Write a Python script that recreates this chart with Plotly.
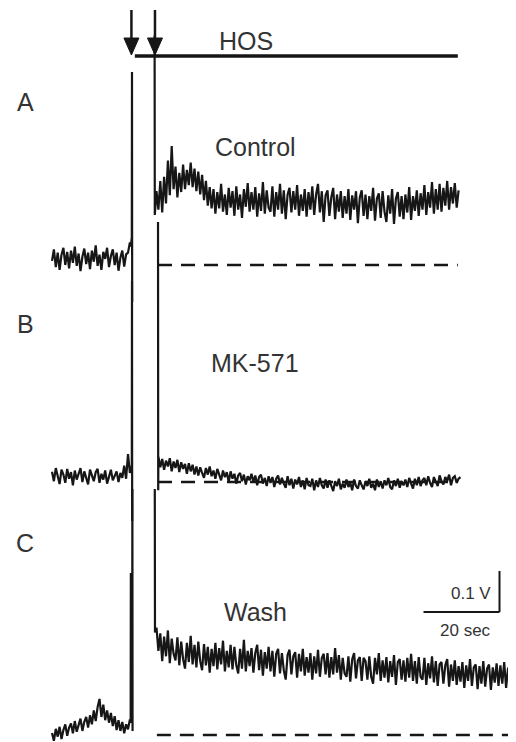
import numpy as np
import plotly.graph_objects as go

# ---------------- data (time in s, potential in mV relative to each panel's baseline) -------------
DT = 0.5  # sampling interval of the traces (s)

# Panel A - Control
A_PRE_T0 = 0.0
A_PRE_MV = [10, 38, -5, 30, -12, 25, 42, 0, 32, -8, 35, 5, 45, -2, 28, -15, 20, 40, 2, 30, -10,
            35, 8, 48, -2, 25, -12, 32, 15, 42, -5, 22, 38, 0, 30, -14, 18, 35, -4, 26, 30, 55]
A_SPIKE_T = [20.75, 21.0, 21.05, 21.1]
A_SPIKE_MV = [45, 68, 471, -90]
A_LEAD_T = [27.0, 27.05]
A_LEAD_MV = [560, 122]
A_POST_T0 = 27.5
A_POST_MV = [180, 135, 205, 128, 215, 150, 255, 170, 290, 185,
             240, 165, 225, 178, 245, 185, 232, 195, 250, 190,
             235, 180, 228, 172, 220, 158, 205, 145, 190, 138,
             185, 125, 178, 138, 198, 130, 172, 122, 188, 140,
             180, 120, 192, 135, 172, 115, 185, 142, 200, 130,
             178, 135, 190, 118, 175, 132, 202, 125, 182, 140,
             130, 192, 118, 178, 135, 198, 125, 182, 112, 172,
             188, 128, 180, 135, 195, 120, 172, 132, 185, 118,
             178, 135, 192, 122, 172, 198, 128, 180, 105, 170,
             182, 120, 165, 188, 112, 172, 130, 180, 115, 168,
             125, 185, 110, 170, 135, 180, 102, 165, 182, 120,
             172, 112, 168, 132, 188, 108, 162, 175, 115, 180,
             130, 105, 170, 125, 185, 100, 162, 178, 118, 168,
             112, 172, 128, 190, 110, 168, 132, 182, 120, 175,
             135, 195, 122, 178, 140, 202, 125, 185, 135, 198,
             130, 188, 145, 205, 135, 190, 150, 200, 140, 182]
A_BASE_T = [27.9, 106.8]

# Panel B - MK-571
B_PRE_T0 = 0.0
B_PRE_MV = [25, 2, 34, 10, -5, 30, 18, -2, 32, 8, 24, -8, 28, 6, 18, 34, 0, 26, 10, -6, 30,
            14, 2, 24, 32, -2, 20, 6, 28, -4, 16, 30, 4, 14, 26, 0, 22, 10, 40, 8, 68, 22]
B_SPIKE_T = [20.75, 21.0, 21.05, 21.1]
B_SPIKE_MV = [30, 40, 490, -95]
B_LEAD_T = [27.9, 27.95]
B_LEAD_MV = [634, -20]
B_POST_T0 = 28.0
B_POST_MV = [62, 36, 56, 30, 52, 38, 58, 26, 50, 34,
             54, 24, 48, 32, 44, 20, 46, 26, 42, 18,
             38, 16, 36, 22, 10, 34, 18, 38, 14, 28,
             8, 32, 16, 4, 28, 12, 24, 0, 26, 8,
             20, -4, 16, 22, 2, 18, -6, 14, 4, 20,
             0, 16, -8, 12, 18, -4, 10, -10, 14, -2,
             12, -12, 8, 16, -6, 10, -4, -14, 14, -8,
             8, -16, 6, -6, 12, -12, 4, -18, 10, -8,
             -10, 8, -20, 4, -12, 10, -8, -16, 6, -14,
             4, -12, -22, 2, -10, 8, -18, -4, -14, 6,
             -12, -2, -20, 6, -10, -16, 4, -8, -18, 2,
             -10, 8, -14, -4, -20, 6, -12, 2, -16, 4,
             -8, 10, -12, -18, 4, -10, 8, -14, 2, -8,
             6, -12, 10, -4, -16, 8, -8, 12, -10, 4,
             10, -8, 14, -2, -12, 12, 0, -10, 16, 2,
             -6, 12, 2, 18, -8, 10, 14, -2, 8, 12]
B_BASE_T = [27.9, 106.8]

# Panel C - Wash
C_PRE_T0 = 0.0
C_PRE_MV = [5, -14, 15, -4, 20, -10, 12, 26, -2, 18,
            28, 4, 34, 8, 24, 40, 10, 32, 44, 18,
            48, 26, 60, 34, 68, 88, 44, 74, 36, 60,
            30, 54, 22, 46, 12, 36, 10, 32, 4, 26,
            14, 38]
C_SPIKE_T = [20.7, 20.75, 20.8, 21.1, 21.15, 21.2]
C_SPIKE_MV = [30, 395, 40, 45, 600, 10]
C_LEAD_T = [27.05, 27.1]
C_LEAD_MV = [600, 250]
C_POST_T0 = 27.5
C_POST_MV = [262, 205, 248, 180, 240, 192, 255, 175, 235, 198,
             182, 238, 170, 228, 185, 162, 225, 178, 242, 172,
             220, 165, 228, 180, 158, 222, 170, 215, 152, 210,
             168, 225, 160, 212, 172, 230, 155, 205, 165, 220,
             160, 215, 170, 150, 210, 162, 232, 155, 205, 168,
             212, 152, 200, 220, 158, 208, 145, 202, 162, 215,
             155, 205, 142, 198, 210, 150, 200, 158, 135, 195,
             208, 148, 192, 202, 140, 198, 155, 210, 145, 190,
             152, 200, 135, 192, 150, 208, 142, 188, 198, 148,
             200, 140, 190, 148, 212, 152, 195, 135, 188, 150,
             142, 192, 130, 185, 200, 138, 182, 190, 132, 188,
             180, 135, 192, 142, 125, 188, 148, 200, 132, 182,
             140, 190, 128, 180, 142, 195, 122, 178, 185, 135,
             182, 130, 188, 140, 198, 132, 180, 125, 190, 142,
             135, 188, 122, 175, 138, 192, 128, 180, 120, 172,
             178, 125, 170, 185, 118, 172, 132, 182, 122, 168,
             130, 178, 115, 170, 132, 185, 120, 165, 172, 112,
             168, 125, 180, 118, 162, 172, 110, 165, 128, 175,
             120, 170, 125, 178, 115, 162, 168, 122, 172, 130]
C_BASE_T = [27.6, 122.2]

# HOS application and stimulus arrows (s)
HOS_T = [21.8, 106.8]
ARROW_T = [20.9, 27.1]
# scale bar
SCALE_SEC = 20
SCALE_V = 0.1

# ---------------- layout helpers ----------------
PAGE_PAD = 8            # default body margin of the html page
W, H = 516 - PAGE_PAD, 742 - PAGE_PAD
X0_PX, PX_PER_S, PX_PER_V = 52, 3.8, 410.0


def px_x(x):
    return (x - X0_PX) / PX_PER_S


def px_y(y):
    return -y / PX_PER_V


OFFSETS = {"A": px_y(265), "B": px_y(482), "C": px_y(735)}
INK = "#161616"
TXT = "#333333"


def seg(t0, mv):
    return list(t0 + DT * np.arange(len(mv))), list(mv)


def build(pre_t0, pre_mv, sp_t, sp_mv, lead_t, lead_mv, post_t0, post_mv, off):
    t1, v1 = seg(pre_t0, pre_mv)
    t2, v2 = seg(post_t0, post_mv)
    t = t1 + sp_t + [None] + lead_t + t2
    v = v1 + sp_mv + [None] + lead_mv + v2
    y = [None if a is None else a / 1000.0 + off for a in v]
    return t, y


fig = go.Figure()
panels = [
    ("A", A_PRE_T0, A_PRE_MV, A_SPIKE_T, A_SPIKE_MV, A_LEAD_T, A_LEAD_MV, A_POST_T0, A_POST_MV, A_BASE_T),
    ("B", B_PRE_T0, B_PRE_MV, B_SPIKE_T, B_SPIKE_MV, B_LEAD_T, B_LEAD_MV, B_POST_T0, B_POST_MV, B_BASE_T),
    ("C", C_PRE_T0, C_PRE_MV, C_SPIKE_T, C_SPIKE_MV, C_LEAD_T, C_LEAD_MV, C_POST_T0, C_POST_MV, C_BASE_T),
]
for name, pt0, pmv, st, smv, lt, lmv, qt0, qmv, bt in panels:
    off = OFFSETS[name]
    fig.add_trace(go.Scatter(x=bt, y=[off, off], mode="lines",
                             line=dict(color=INK, width=2.6, dash="14px,9px"),
                             hoverinfo="skip", showlegend=False))
    t, y = build(pt0, pmv, st, smv, lt, lmv, qt0, qmv, off)
    fig.add_trace(go.Scatter(x=t, y=y, mode="lines", connectgaps=False,
                             line=dict(color=INK, width=2.2),
                             hoverinfo="skip", showlegend=False))

shapes = []
# HOS bar
shapes.append(dict(type="line", xref="x", yref="y", x0=HOS_T[0], x1=HOS_T[1],
                   y0=px_y(56), y1=px_y(56), line=dict(color=INK, width=3.5)))
# arrows
hw = 7.5 / PX_PER_S
for ta in ARROW_T:
    shapes.append(dict(type="line", xref="x", yref="y", x0=ta, x1=ta,
                       y0=px_y(10), y1=px_y(42), line=dict(color=INK, width=2.5)))
    shapes.append(dict(type="path", xref="x", yref="y",
                       path=f"M{ta - hw},{px_y(38)} L{ta + hw},{px_y(38)} L{ta},{px_y(55)} Z",
                       fillcolor=INK, line=dict(color=INK, width=1)))
# scale bar
sx1 = px_x(499.5)
sy0 = px_y(612)
shapes.append(dict(type="line", xref="x", yref="y", x0=sx1 - SCALE_SEC, x1=sx1,
                   y0=sy0, y1=sy0, line=dict(color=INK, width=2)))
shapes.append(dict(type="line", xref="x", yref="y", x0=sx1, x1=sx1,
                   y0=sy0, y1=sy0 + SCALE_V, line=dict(color=INK, width=2)))

font = "Liberation Sans, Arial, sans-serif"
ann = []


def label(text, x, y, size, xanchor="center"):
    ann.append(dict(text=text, x=px_x(x), y=px_y(y), xref="x", yref="y",
                    showarrow=False, xanchor=xanchor, yanchor="middle",
                    font=dict(family=font, size=size, color=TXT)))


label("HOS", 246, 41, 25)
label("A", 25, 102, 25)
label("B", 25, 324, 25)
label("C", 25, 543, 25)
label("Control", 255, 147, 25)
label("MK-571", 255, 363, 25)
label("Wash", 255, 612, 25)
label("0.1 V", 471, 593, 17)
label("20 sec", 465, 630, 17)

fig.update_layout(
    width=W, height=H, margin=dict(l=0, r=0, t=0, b=0),
    paper_bgcolor="white", plot_bgcolor="white",
    xaxis=dict(range=[px_x(PAGE_PAD), px_x(516)], visible=False, fixedrange=True),
    yaxis=dict(range=[px_y(742), px_y(PAGE_PAD)], visible=False, fixedrange=True),
    shapes=shapes, annotations=ann, showlegend=False,
)

fig.write_html("out.html")
